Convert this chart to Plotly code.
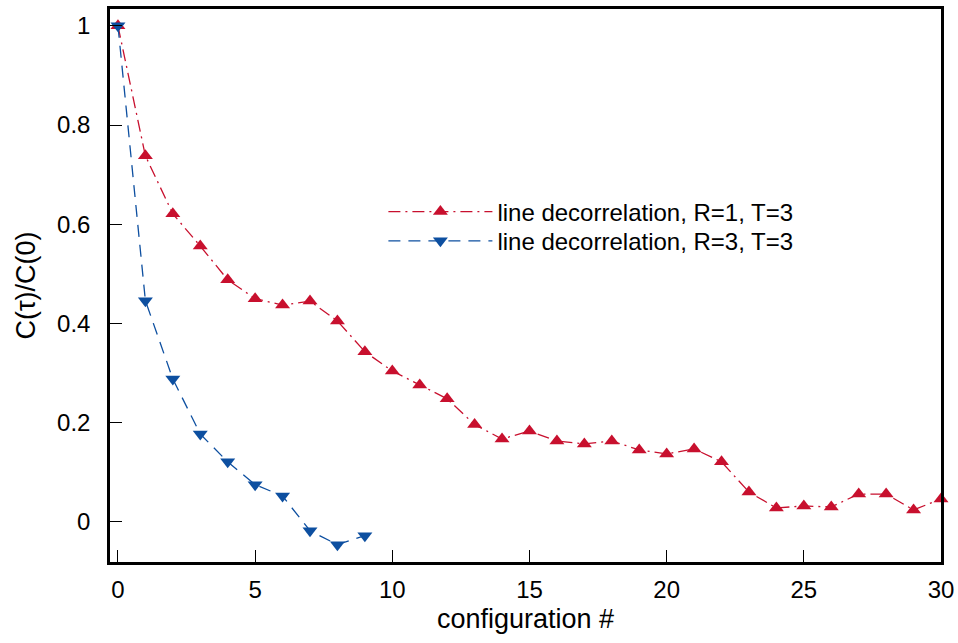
import plotly.graph_objects as go

x_r1 = list(range(0, 31))
c_r1 = [1.0, 0.738, 0.621, 0.556, 0.488, 0.450, 0.437, 0.445, 0.405, 0.343,
        0.304, 0.276, 0.248, 0.196, 0.167, 0.183, 0.163, 0.157, 0.163, 0.145,
        0.137, 0.147, 0.121, 0.060, 0.028, 0.032, 0.030, 0.056, 0.056, 0.024, 0.046]
x_r3 = list(range(0, 10))
c_r3 = [1.0, 0.446, 0.288, 0.177, 0.121, 0.075, 0.052, -0.018, -0.046, -0.028]

red = "#c8102e"
blue = "#0d4fa0"
font = "Liberation Sans, Arial, sans-serif"

fig = go.Figure()
fig.add_trace(go.Scatter(
    x=x_r1, y=c_r1, mode="lines+markers",
    name="line decorrelation, R=1, T=3",
    line=dict(color=red, width=1.3, dash="12px,5px,2px,5px"),
    marker=dict(symbol="triangle-up", size=13, color=red),
    cliponaxis=False, legend="legend",
))
fig.add_trace(go.Scatter(
    x=x_r3, y=c_r3, mode="lines+markers",
    name="line decorrelation, R=3, T=3",
    line=dict(color=blue, width=1.3, dash="12px,8px"),
    marker=dict(symbol="triangle-down", size=13, color=blue),
    cliponaxis=False, legend="legend2",
))

leg_common = dict(xanchor="left", yanchor="middle", bgcolor="rgba(0,0,0,0)",
                  font=dict(size=24, family=font), itemwidth=104)

fig.update_layout(
    width=958, height=643,
    margin=dict(l=110, r=17, t=9, b=81),
    plot_bgcolor="white", paper_bgcolor="white",
    font=dict(family=font, size=24, color="black"),
    showlegend=True,
    legend=dict(x=0.329, y=0.633, **leg_common),
    legend2=dict(x=0.329, y=0.580, **leg_common),
    annotations=[dict(text="configuration #", xref="paper", yref="paper",
                      x=0.5, y=0, xanchor="center", yanchor="middle",
                      yshift=-57, showarrow=False,
                      font=dict(size=27, family=font, color="black"))],
)
fig.update_xaxes(
    range=[-0.29, 30.0], tickvals=[0, 5, 10, 15, 20, 25, 30],
    ticks="inside", ticklen=12, tickwidth=1.2, tickcolor="black",
    tickfont=dict(size=24), ticklabelstandoff=4, automargin=False,
    showline=True, linecolor="black", linewidth=2.5, mirror=True,
    showgrid=False, zeroline=False,
)
fig.update_yaxes(
    range=[-0.081, 1.034], tickvals=[0, 0.2, 0.4, 0.6, 0.8, 1],
    ticktext=["0", "0.2", "0.4", "0.6", "0.8", "1"],
    ticks="inside", ticklen=12, tickwidth=1.2, tickcolor="black",
    tickfont=dict(size=24), ticklabelstandoff=12, automargin=False,
    showline=True, linecolor="black", linewidth=2.5, mirror=True,
    showgrid=False, zeroline=False,
    title=dict(text="C(τ)/C(0)", font=dict(size=27), standoff=14),
)
fig.write_html("out.html", config={"displayModeBar": False},
               post_script="document.body.style.margin='0px';")
